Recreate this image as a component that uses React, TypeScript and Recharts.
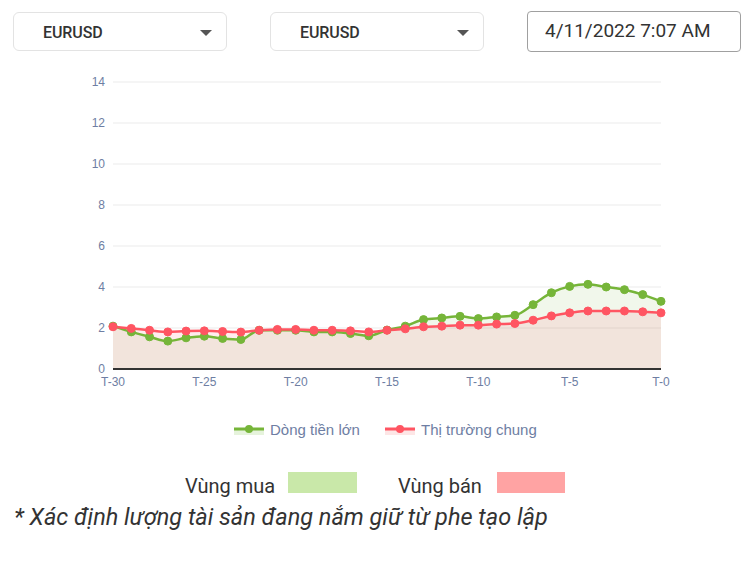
import React from "react";
import { ComposedChart, Area, Line, XAxis, YAxis, CartesianGrid } from "recharts";

const labels = [
  "T-30","T-29","T-28","T-27","T-26","T-25","T-24","T-23","T-22","T-21",
  "T-20","T-19","T-18","T-17","T-16","T-15","T-14","T-13","T-12","T-11",
  "T-10","T-9","T-8","T-7","T-6","T-5","T-4","T-3","T-2","T-1","T-0",
];
const dongTienLon = [
  2.09, 1.81, 1.57, 1.36, 1.52, 1.6, 1.49, 1.44, 1.89, 1.89,
  1.89, 1.81, 1.81, 1.73, 1.62, 1.9, 2.09, 2.41, 2.49, 2.57,
  2.46, 2.54, 2.62, 3.14, 3.72, 4.03, 4.13, 4.0, 3.87, 3.63, 3.3,
];
const thiTruongChung = [
  2.06, 1.98, 1.89, 1.81, 1.85, 1.86, 1.83, 1.8, 1.89, 1.93,
  1.93, 1.89, 1.89, 1.86, 1.81, 1.89, 1.96, 2.06, 2.09, 2.14,
  2.14, 2.19, 2.22, 2.38, 2.59, 2.74, 2.83, 2.83, 2.83, 2.79, 2.74,
];
const yTicks = [0, 2, 4, 6, 8, 10, 12, 14];
const seriesNames = ["Dòng tiền lớn", "Thị trường chung"];

const data = labels.map((label, i) => ({
  label,
  big: dongTienLon[i],
  market: thiTruongChung[i],
}));

const GREEN = "#76b539";
const RED = "#ff5562";
const TICK = "#6e7ea3";

const Select = ({ left, text }: { left: number; text: string }) => (
  <div
    style={{
      position: "absolute",
      left,
      top: 12,
      width: 214,
      height: 39,
      border: "1px solid #e3e3e3",
      borderRadius: 6,
      boxSizing: "border-box",
      fontFamily: "Roboto, sans-serif",
    }}
  >
    <span
      style={{
        position: "absolute",
        left: 29,
        top: 10,
        fontSize: 16,
        fontWeight: 500,
        color: "#333",
        letterSpacing: -0.1,
      }}
    >
      {text}
    </span>
    <svg style={{ position: "absolute", left: 186, top: 17 }} width={12} height={6}>
      <polygon points="0,0 12,0 6,6" fill="#555" />
    </svg>
  </div>
);

const LegendItem = ({ left, color, fill, text }: { left: number; color: string; fill: string; text: string }) => (
  <div style={{ position: "absolute", left, top: 419, height: 20, display: "flex", alignItems: "center" }}>
    <svg width={30} height={14} style={{ marginRight: 6 }}>
      <rect x={0} y={7} width={30} height={6} fill={fill} />
      <line x1={0} y1={7} x2={30} y2={7} stroke={color} strokeWidth={3} />
      <circle cx={15} cy={7} r={4} fill={color} />
    </svg>
    <span style={{ fontFamily: "'Liberation Sans', Arial, sans-serif", fontSize: 15, color: TICK }}>{text}</span>
  </div>
);

export default function App() {
  return (
    <div style={{ position: "absolute", left: 0, top: 0, width: 755, height: 564, background: "#fff" }}>
      <Select left={13} text="EURUSD" />
      <Select left={270} text="EURUSD" />
      <div
        style={{
          position: "absolute",
          left: 527,
          top: 11,
          width: 214,
          height: 41,
          border: "1px solid #a0a0a0",
          borderRadius: 4,
          boxSizing: "border-box",
          fontFamily: "Roboto, sans-serif",
          fontSize: 19,
          color: "#333",
          paddingLeft: 17,
          lineHeight: "38px",
        }}
      >
        4/11/2022 7:07 AM
      </div>

      <div style={{ position: "absolute", left: 63, top: 70 }}>
        <ComposedChart
          width={610}
          height={340}
          data={data}
          margin={{ top: 12, right: 12, left: 10, bottom: 11 }}
        >
          <CartesianGrid horizontal vertical={false} stroke="#ebebeb" />
          <XAxis
            dataKey="label"
            interval={4}
            tickLine={false}
            axisLine={{ stroke: "#333", strokeWidth: 2 }}
            tick={{ fill: TICK, fontSize: 12, fontFamily: "'Liberation Sans', Arial, sans-serif" }}
            height={30}
          />
          <YAxis
            domain={[0, 14]}
            ticks={yTicks}
            width={40}
            tickLine={false}
            axisLine={false}
            tick={{ fill: TICK, fontSize: 12, fontFamily: "'Liberation Sans', Arial, sans-serif" }}
          />
          <Area
            type="monotone"
            dataKey="big"
            stroke="none"
            fill={GREEN}
            fillOpacity={0.1}
            dot={false}
            activeDot={false}
            legendType="none"
            isAnimationActive={false}
          />
          <Area
            type="monotone"
            dataKey="market"
            stroke="none"
            fill={RED}
            fillOpacity={0.11}
            dot={false}
            activeDot={false}
            legendType="none"
            isAnimationActive={false}
          />
          <Line
            type="monotone"
            dataKey="big"
            name={seriesNames[0]}
            stroke={GREEN}
            strokeWidth={2.5}
            dot={{ r: 4, fill: GREEN, stroke: GREEN, strokeWidth: 1 }}
            activeDot={false}
            isAnimationActive={false}
          />
          <Line
            type="monotone"
            dataKey="market"
            name={seriesNames[1]}
            stroke={RED}
            strokeWidth={2.5}
            dot={{ r: 4, fill: RED, stroke: RED, strokeWidth: 1 }}
            activeDot={false}
            isAnimationActive={false}
          />
        </ComposedChart>
      </div>

      <LegendItem left={234} color={GREEN} fill="#e6f3dc" text={seriesNames[0]} />
      <LegendItem left={385} color={RED} fill="#fde6e6" text={seriesNames[1]} />

      <div style={{ position: "absolute", left: 0, top: 0, fontFamily: "Roboto, sans-serif", color: "#333" }}>
        <span style={{ position: "absolute", left: 185, top: 474, fontSize: 20, whiteSpace: "nowrap" }}>Vùng mua</span>
        <div style={{ position: "absolute", left: 288, top: 472, width: 69, height: 21, background: "#c9e8a9" }} />
        <span style={{ position: "absolute", left: 398, top: 474, fontSize: 20, whiteSpace: "nowrap" }}>Vùng bán</span>
        <div style={{ position: "absolute", left: 497, top: 472, width: 68, height: 21, background: "#ffa3a3" }} />
        <span
          style={{
            position: "absolute",
            left: 14,
            top: 503,
            fontSize: 23.5,
            fontStyle: "italic",
            whiteSpace: "nowrap",
          }}
        >
          * Xác định lượng tài sản đang nắm giữ từ phe tạo lập
        </span>
      </div>
    </div>
  );
}
